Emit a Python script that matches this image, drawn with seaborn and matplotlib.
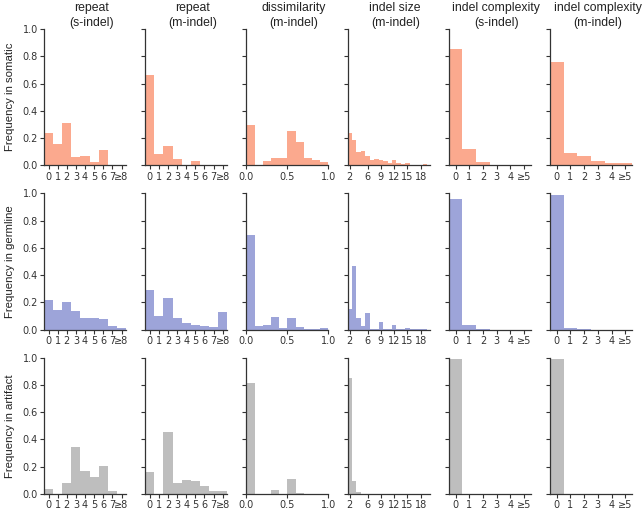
import numpy as np
import pandas as pd
import matplotlib
matplotlib.use("Agg")
import matplotlib.pyplot as plt
import seaborn as sns

# bins / tick labels
repeat_pos = [0, 1, 2, 3, 4, 5, 6, 7, 8]
repeat_labels = ["0", "1", "2", "3", "4", "5", "6", "7", "≥8"]
dissim_mid = [0.05, 0.15, 0.25, 0.35, 0.45, 0.55, 0.65, 0.75, 0.85, 0.95]
dissim_edges = [0.0, 0.1, 0.2, 0.3, 0.4, 0.5, 0.6, 0.7, 0.8, 0.9, 1.0]
dissim_ticks = [0.0, 0.5, 1.0]
size_pos = [2, 3, 4, 5, 6, 7, 8, 9, 10, 11, 12, 13, 14, 15, 16, 17, 18, 19]
size_ticks = [2, 6, 9, 12, 15, 18]
cplx_pos = [0, 1, 2, 3, 4, 5]
cplx_labels = ["0", "1", "2", "3", "4", "≥5"]

col_titles = ["repeat\n(s-indel)", "repeat\n(m-indel)", "dissimilarity\n(m-indel)",
              "indel size\n(m-indel)", "indel complexity\n(s-indel)", "indel complexity\n(m-indel)"]
row_labels = ["Frequency in somatic", "Frequency in germline", "Frequency in artifact"]
row_colors = ["#FBA98E", "#9DA4D9", "#BEBEBE"]

# somatic
som_repeat_s = [0.24, 0.155, 0.31, 0.06, 0.07, 0.025, 0.11, 0.005, 0.005]
som_repeat_m = [0.665, 0.085, 0.145, 0.045, 0.003, 0.03, 0.002, 0.002, 0.002]
som_dissim = [0.30, 0.005, 0.03, 0.056, 0.051, 0.253, 0.175, 0.056, 0.039, 0.027]
som_size = [0.235, 0.19, 0.10, 0.105, 0.068, 0.043, 0.044, 0.037, 0.035, 0.018, 0.042,
            0.02, 0.012, 0.02, 0.006, 0.005, 0.005, 0.01]
som_cplx_s = [0.85, 0.117, 0.024, 0.002, 0.001, 0.001]
som_cplx_m = [0.76, 0.088, 0.066, 0.03, 0.02, 0.015]

# germline
ger_repeat_s = [0.216, 0.147, 0.203, 0.135, 0.086, 0.083, 0.078, 0.027, 0.015]
ger_repeat_m = [0.294, 0.103, 0.233, 0.088, 0.051, 0.037, 0.029, 0.02, 0.13]
ger_dissim = [0.696, 0.025, 0.037, 0.096, 0.015, 0.088, 0.02, 0.003, 0.003, 0.01]
ger_size = [0.152, 0.466, 0.086, 0.025, 0.123, 0.005, 0.006, 0.054, 0.005, 0.003, 0.032,
            0.003, 0.003, 0.013, 0.002, 0.002, 0.002, 0.002]
ger_cplx_s = [0.96, 0.034, 0.005, 0.001, 0.001, 0.001]
ger_cplx_m = [0.985, 0.012, 0.002, 0.001, 0.001, 0.001]

# artifact
art_repeat_s = [0.034, 0.0, 0.083, 0.346, 0.168, 0.127, 0.202, 0.02, 0.002]
art_repeat_m = [0.159, 0.0, 0.451, 0.078, 0.102, 0.095, 0.056, 0.024, 0.02]
art_dissim = [0.817, 0.002, 0.002, 0.027, 0.002, 0.11, 0.007, 0.002, 0.002, 0.002]
art_size = [0.851, 0.095, 0.012, 0.002, 0.001, 0.001, 0.0, 0.0, 0.0, 0.0, 0.0,
            0.0, 0.0, 0.0, 0.0, 0.0, 0.0, 0.0]
art_cplx_s = [0.99, 0.0, 0.0, 0.0, 0.0, 0.0]
art_cplx_m = [0.988, 0.0, 0.0, 0.0, 0.0, 0.0]

rows = [
    [som_repeat_s, som_repeat_m, som_dissim, som_size, som_cplx_s, som_cplx_m],
    [ger_repeat_s, ger_repeat_m, ger_dissim, ger_size, ger_cplx_s, ger_cplx_m],
    [art_repeat_s, art_repeat_m, art_dissim, art_size, art_cplx_s, art_cplx_m],
]
col_kind = ["repeat", "repeat", "dissim", "size", "cplx", "cplx"]

sns.set_style("ticks")
plt.rcParams["font.family"] = ["DejaVu Sans"]

fig, axes = plt.subplots(3, 6, figsize=(6.43, 5.09), dpi=100)
fig.subplots_adjust(left=0.0684, right=0.983, top=0.943, bottom=0.0295,
                    wspace=0.232, hspace=0.204)

for r in range(3):
    for c in range(6):
        ax = axes[r, c]
        vals = rows[r][c]
        kind = col_kind[c]
        color = row_colors[r]
        kw = dict(color=color, alpha=1, linewidth=0, ax=ax, stat="count")
        if kind == "repeat":
            df = pd.DataFrame({"x": repeat_pos, "w": vals})
            sns.histplot(data=df, x="x", weights="w", discrete=True, **kw)
            ax.set_xlim(-0.5, 8.5)
            ax.set_xticks(repeat_pos)
            ax.set_xticklabels(repeat_labels)
        elif kind == "dissim":
            df = pd.DataFrame({"x": dissim_mid, "w": vals})
            sns.histplot(data=df, x="x", weights="w", bins=dissim_edges, **kw)
            ax.set_xlim(0, 1.0)
            ax.set_xticks(dissim_ticks)
            ax.set_xticklabels(["0.0", "0.5", "1.0"])
        elif kind == "size":
            df = pd.DataFrame({"x": size_pos, "w": vals})
            sns.histplot(data=df, x="x", weights="w", discrete=True, **kw)
            ax.set_xlim(1.5, 20.0)
            ax.set_xticks(size_ticks)
            ax.set_xticklabels([str(t) for t in size_ticks])
        else:
            df = pd.DataFrame({"x": cplx_pos, "w": vals})
            sns.histplot(data=df, x="x", weights="w", discrete=True, **kw)
            ax.set_xlim(-0.5, 5.5)
            ax.set_xticks(cplx_pos)
            ax.set_xticklabels(cplx_labels)

        ax.set_ylim(0, 1.0)
        ax.set_yticks([0.0, 0.2, 0.4, 0.6, 0.8, 1.0])
        ax.set_xlabel("")
        if c == 0:
            ax.set_yticklabels(["0.0", "0.2", "0.4", "0.6", "0.8", "1.0"])
            ax.set_ylabel(row_labels[r], family="Liberation Sans", fontsize=8.2,
                          color="#222222", labelpad=5)
        else:
            ax.set_yticklabels([])
            ax.set_ylabel("")
        if r == 0:
            ax.set_title(col_titles[c], family="Liberation Sans", fontsize=8.8,
                         color="#222222", x=0.58, pad=2, linespacing=1.3)
        ax.tick_params(axis="both", labelsize=7, length=3, width=0.8,
                       pad=1.5, colors="#333333", direction="out")
        for s in ["left", "bottom"]:
            ax.spines[s].set_color("#333333")
            ax.spines[s].set_linewidth(0.9)
        sns.despine(ax=ax)

fig.savefig("out.png", dpi=100)
